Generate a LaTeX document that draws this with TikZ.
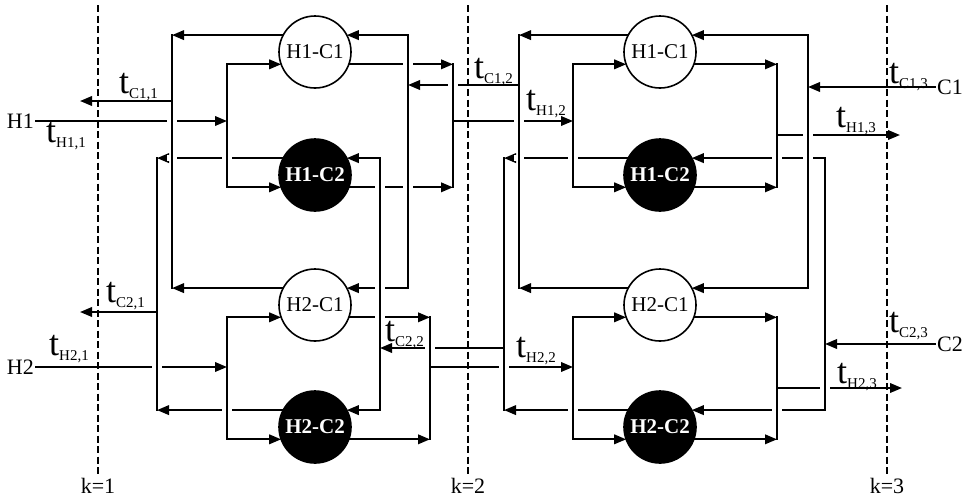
\documentclass[tikz,border=0pt]{standalone}
\usepackage{fontspec}
\setmainfont{Liberation Serif}
\usetikzlibrary{arrows.meta,calc}
\newcommand\tlab[1]{{\fontsize{36}{36}\selectfont t}\raisebox{-5pt}{\fontsize{15}{15}\selectfont #1}}
\newcommand\jmp[1]{\fill[white] ($(#1)+(-5,-3)$) rectangle ($(#1)+(5,3)$);
  \draw[ln] ($(#1)+(0,-5)$) -- ($(#1)+(0,5)$);}
% #1 prefix, #2 C1 out bus, #3 C2 out bus, #4 H splitter, #5 C1 in bus, #6 C2 in bus, #7 H1 merger, #8 H2 merger
\newcommand\hxstage[8]{%
  \draw[bus] (#111.152 -| #2) -- (#121.152 -| #2);
  \draw[arr] (#111.152) -- (#111.152 -| #2);
  \draw[arr] (#121.152) -- (#121.152 -| #2);
  \draw[bus] (#112.152 -| #3) -- (#122.152 -| #3);
  \draw[arr] (#112.152) -- (#112.152 -| #3);
  \draw[arr] (#122.152) -- (#122.152 -| #3);
  \draw[bus] (#111.200 -| #4) -- (#112.200 -| #4);
  \draw[arr] (#111.200 -| #4) -- (#111.200);
  \draw[arr] (#112.200 -| #4) -- (#112.200);
  \draw[bus] (#121.200 -| #4) -- (#122.200 -| #4);
  \draw[arr] (#121.200 -| #4) -- (#121.200);
  \draw[arr] (#122.200 -| #4) -- (#122.200);
  \draw[bus] (#111.28 -| #5) -- (#121.28 -| #5);
  \draw[arr] (#111.28 -| #5) -- (#111.28);
  \draw[arr] (#121.28 -| #5) -- (#121.28);
  \draw[bus] (#112.28 -| #6) -- (#122.28 -| #6);
  \draw[arr] (#112.28 -| #6) -- (#112.28);
  \draw[arr] (#122.28 -| #6) -- (#122.28);
  \draw[bus] (#111.340 -| #7) -- (#112.340 -| #7);
  \draw[arr] (#111.340) -- (#111.340 -| #7);
  \draw[arr] (#112.340) -- (#112.340 -| #7);
  \draw[bus] (#121.340 -| #8) -- (#122.340 -| #8);
  \draw[arr] (#121.340) -- (#121.340 -| #8);
  \draw[arr] (#122.340) -- (#122.340 -| #8);
}
\begin{document}
\begin{tikzpicture}[x=1pt,y=-1pt,
  ln/.style={line width=2pt},
  bus/.style={ln,line cap=rect},
  arr/.style={ln,-{Triangle[length=12pt,width=9.5pt]}},
  hx/.style={circle,draw,line width=1.6pt,minimum size=72pt,inner sep=0pt,outer sep=0pt,font=\fontsize{21}{21}\selectfont},
  hxw/.style={hx,fill=white},
  hxb/.style={hx,fill=black,text=white,font=\fontsize{21}{21}\selectfont\bfseries},
  tl/.style={anchor=base west,inner sep=0pt},
  kdash/.style={line width=1.8pt,dash pattern=on 7pt off 3.5pt},
  lbl/.style={font=\fontsize{22}{22}\selectfont,inner sep=1pt}
]
\useasboundingbox (0,0) rectangle (965,499);
\fill[white] (0,0) rectangle (965,499);

% period boundaries
\node[lbl,anchor=base] (k1) at (98,493) {k=1};
\node[lbl,anchor=base] (k2) at (468,493) {k=2};
\node[lbl,anchor=base] (k3) at (887,493) {k=3};
\coordinate (k1t) at (98,5);
\coordinate (k2t) at (468,5);
\coordinate (k3t) at (887,5);
\draw[kdash] (k1t) -- (k1.north);
\draw[kdash] (k2t) -- (k2.north);
\draw[kdash] (k3t) -- (k3.north);

% exchangers
\node[hxw] (a11) at (315,52) {H1-C1};
\node[hxb] (a12) at (315,175) {H1-C2};
\node[hxw] (a21) at (315,305) {H2-C1};
\node[hxb] (a22) at (315,427) {H2-C2};
\node[hxw] (b11) at (660,52) {H1-C1};
\node[hxb] (b12) at (660,175) {H1-C2};
\node[hxw] (b21) at (660,305) {H2-C1};
\node[hxb] (b22) at (660,427) {H2-C2};

% bus positions
\coordinate (xA) at (172,0);
\coordinate (xB) at (157,0);
\coordinate (xS) at (227,0);
\coordinate (xD) at (408,0);
\coordinate (xE) at (380,0);
\coordinate (xM) at (453,0);
\coordinate (xN) at (430,0);
\coordinate (yA) at (519,0);
\coordinate (yB) at (504,0);
\coordinate (yS) at (573,0);
\coordinate (yD) at (808,0);
\coordinate (yE) at (825,0);
\coordinate (yM) at (777,0);

\hxstage{a}{xA}{xB}{xS}{xD}{xE}{xM}{xN}
\hxstage{b}{yA}{yB}{yS}{yD}{yE}{yM}{yM}

% stream ends
\node[lbl,anchor=east] (H1) at (35,121) {H1};
\node[lbl,anchor=east] (H2) at (35,367) {H2};
\node[lbl,anchor=west] (C1) at (936,87) {C1};
\node[lbl,anchor=west] (C2) at (936,344) {C2};
\coordinate (oC11) at (80,101);
\coordinate (oC21) at (80,312);
\coordinate (m12) at (0,85);
\coordinate (m22) at (0,348);
\coordinate (oH13) at (900,135);
\coordinate (oH23) at (902,388);

\draw[arr] (H1.east) -- (H1.east -| xS);
\draw[arr] (H2.east) -- (H2.east -| xS);
\draw[arr] (xA |- oC11) -- (oC11);
\draw[arr] (xB |- oC21) -- (oC21);
\draw[arr] (yA |- m12) -- (xD |- m12);
\draw[arr] (yB |- m22) -- (xE |- m22);
\draw[arr] (xM |- H1.east) -- (yS |- H1.east);
\draw[arr] (xN |- H2.east) -- (yS |- H2.east);
\draw[arr] (C1.west) -- (C1.west -| yD);
\draw[arr] (C2.west) -- (C2.west -| yE);
\draw[arr] (yM |- oH13) -- (oH13);
\draw[arr] (yM |- oH23) -- (oH23);

% line crossings
\jmp{xA |- H1.east}
\jmp{xS |- a12.152}
\jmp{xA |- a12.152}
\jmp{xD |- a11.340}
\jmp{xE |- a12.340}
\jmp{xD |- a12.340}
\jmp{xM |- m12}
\jmp{yA |- H1.east}
\jmp{xB |- H2.east}
\jmp{xE |- a21.28}
\jmp{xS |- a22.152}
\jmp{xE |- a21.340}
\jmp{yB |- H2.east}
\jmp{xN |- m22}
\jmp{yS |- b12.152}
\jmp{yA |- b12.152}
\jmp{yM |- b12.28}
\jmp{yD |- b12.28}
\jmp{yD |- oH13}
\jmp{yS |- b22.152}
\jmp{yM |- b22.28}
\jmp{yE |- oH23}

% temperature labels
\node[tl] (tc11) at (119,93) {\tlab{C1,1}};
\node[tl] (th11) at (46,142) {\tlab{H1,1}};
\node[tl] (tc21) at (106,302) {\tlab{C2,1}};
\node[tl] (th21) at (49,355) {\tlab{H2,1}};
\node[tl] (tc12) at (474,78) {\tlab{C1,2}};
\node[tl] (th12) at (526,110) {\tlab{H1,2}};
\node[tl] (tc22) at (385,341) {\tlab{C2,2}};
\node[tl] (th22) at (516,357) {\tlab{H2,2}};
\node[tl] (tc13) at (889,83) {\tlab{C1,3}};
\node[tl] (th13) at (836,127) {\tlab{H1,3}};
\node[tl] (tc23) at (889,332) {\tlab{C2,3}};
\node[tl] (th23) at (837,383) {\tlab{H2,3}};
\end{tikzpicture}
\end{document}
